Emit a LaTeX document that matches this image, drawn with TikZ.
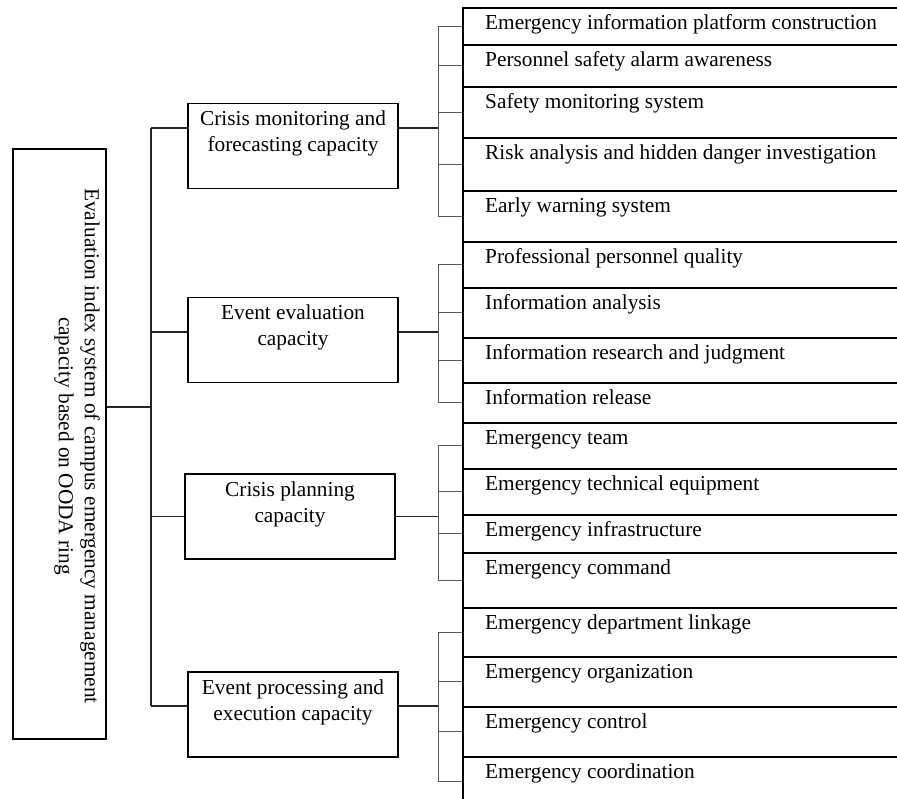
\documentclass[tikz,border=0pt]{standalone}
\usepackage{fontspec}
\setmainfont{Liberation Serif}
\usetikzlibrary{positioning,calc}

\begin{document}
\begin{tikzpicture}[x=1pt, y=-1pt, font=\fontsize{21.3}{26}\selectfont,
  rootbox/.style={draw, line width=1.6pt, minimum width=93pt, minimum height=590pt, inner sep=0pt},
  catbox/.style={draw, line width=1.6pt, minimum width=210pt, minimum height=85pt, inner sep=0pt, label={[cattext]north:#1}},
  cattext/.style={anchor=north, align=center, inner sep=0pt, yshift=-8pt},
  leaf/.style={draw, line width=1.6pt, anchor=north west, minimum width=445pt, inner sep=0pt, label={[leaftext]north west:#1}},
  leaftext/.style={anchor=base west, inner sep=0pt, xshift=23pt, yshift=-22pt},
  link/.style={line width=1.1pt, black!85},
  fork/.style={line width=0.9pt, black!65}]
\useasboundingbox (0,0) rectangle (897,798);
\clip (0,0) rectangle (897,798);

% root
\node[rootbox] (root) at (59.5,444) {};
\node[rotate=-90, align=center, inner sep=0pt] (roottext) at (77,446) {Evaluation index system of campus emergency management\\capacity based on OODA ring};

% capacities
\node[catbox={Crisis monitoring and\\forecasting capacity}] (c1) at (293,146) {};
\node[catbox={Event evaluation\\capacity}] (c2) at (293,340) {};
\node[catbox={Crisis planning\\capacity}] (c3) at (290,516.5) {};
\node[catbox={Event processing and\\execution capacity}] (c4) at (293,714.5) {};

% indicators
\node[leaf={Emergency information platform construction}, minimum height=37pt] (l1) at (462,7) {};
\node[leaf={Personnel safety alarm awareness}, minimum height=42pt] (l2) at (462,44) {};
\node[leaf={Safety monitoring system}, minimum height=51pt] (l3) at (462,86) {};
\node[leaf={Risk analysis and hidden danger investigation}, minimum height=53pt] (l4) at (462,137) {};
\node[leaf={Early warning system}, minimum height=51pt] (l5) at (462,190) {};
\node[leaf={Professional personnel quality}, minimum height=46pt] (l6) at (462,241) {};
\node[leaf={Information analysis}, minimum height=50pt] (l7) at (462,287) {};
\node[leaf={Information research and judgment}, minimum height=45pt] (l8) at (462,337) {};
\node[leaf={Information release}, minimum height=40pt] (l9) at (462,382) {};
\node[leaf={Emergency team}, minimum height=46pt] (l10) at (462,422) {};
\node[leaf={Emergency technical equipment}, minimum height=46pt] (l11) at (462,468) {};
\node[leaf={Emergency infrastructure}, minimum height=38pt] (l12) at (462,514) {};
\node[leaf={Emergency command}, minimum height=55pt] (l13) at (462,552) {};
\node[leaf={Emergency department linkage}, minimum height=49pt] (l14) at (462,607) {};
\node[leaf={Emergency organization}, minimum height=50pt] (l15) at (462,656) {};
\node[leaf={Emergency control}, minimum height=50pt] (l16) at (462,706) {};
\node[leaf={Emergency coordination}, minimum height=50pt] (l17) at (462,756) {};

% junctions
\coordinate (sp) at (151,407);
\coordinate (bx) at (438,0);
\coordinate (j1) at ([yshift=18pt]c1.west);
\coordinate (j2) at ([yshift=8pt]c2.west);
\coordinate (j3) at (c3.west);
\coordinate (j4) at ([yshift=8.5pt]c4.west);

\draw[link] ([yshift=37pt]root.east) -- (sp);
\draw[link] (sp |- j1) -- (sp |- j4);
\foreach \j/\c in {j1/c1, j2/c2, j3/c3, j4/c4} {
  \draw[link] (sp |- \j) -- (\j);
  \draw[link] (\j -| \c.east) -- (\j -| bx);
}

% brackets
\draw[fork] (bx |- l1.west) -- (bx |- l5.west);
\draw[fork] (bx |- l6.west) -- (bx |- l9.west);
\draw[fork] (bx |- l10.west) -- (bx |- l13.west);
\draw[fork] (bx |- l14.west) -- (bx |- l17.west);
\foreach \l in {l1,l2,l3,l4,l5,l6,l7,l8,l9,l10,l11,l12,l13,l14,l15,l16,l17}
  \draw[fork] (bx |- \l.west) -- (\l.west);
\end{tikzpicture}
\end{document}
